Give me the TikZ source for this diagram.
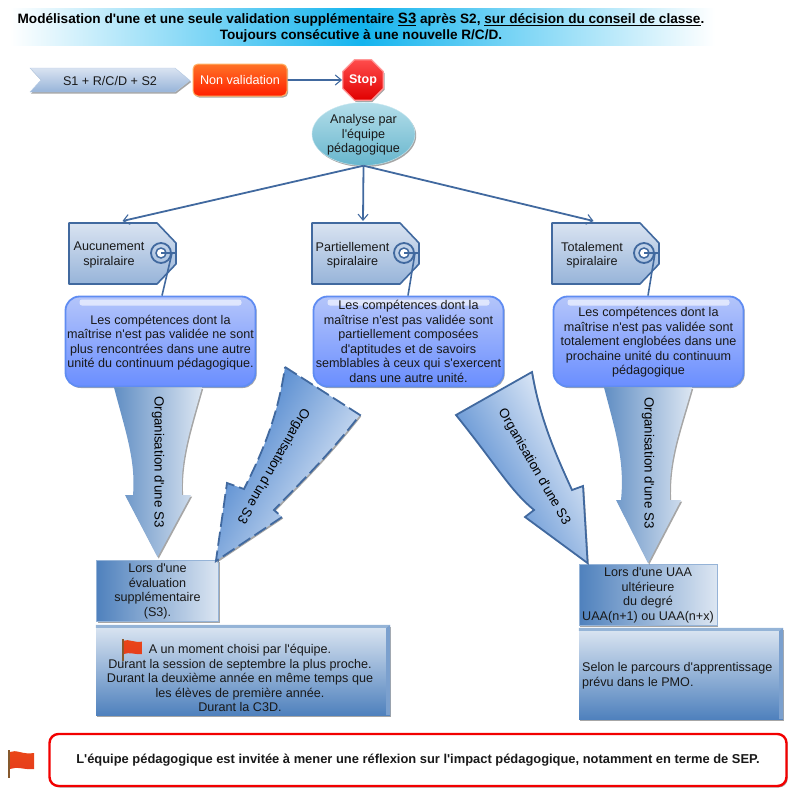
\documentclass[tikz,border=0pt]{standalone}
\usepackage{fontspec}
\setmainfont{Liberation Sans}
\newfontfamily\plainsans{Liberation Sans}
\usetikzlibrary{arrows.meta,shadows,calc,shapes.geometric}
\definecolor{linkblue}{HTML}{41699F}
\definecolor{steelA}{HTML}{4F81BD}
\definecolor{steelB}{HTML}{DCE6F2}
\definecolor{steelDeep}{HTML}{3A78C8}
\definecolor{steelPale}{HTML}{F0F5FC}
\definecolor{tagA}{HTML}{D9E3F1}
\definecolor{tagB}{HTML}{97B4D9}
\definecolor{gelA}{HTML}{B4C5FA}
\definecolor{gelB}{HTML}{6A8EFF}
\definecolor{gelEdge}{HTML}{5F8CF2}
\definecolor{banner}{HTML}{14B4EE}
\definecolor{flagred}{HTML}{E63D1C}
\definecolor{pondA}{HTML}{B4DEEA}
\definecolor{pondB}{HTML}{68B6CD}
\newcommand{\up}{\rule{0pt}{11.5pt}}
\tikzset{
  x=1pt, y=-1pt,
  body/.style={font=\fontsize{12.6}{14.5}\selectfont, align=center, text=black!90, inner sep=0pt},
  link/.style={draw=linkblue, line width=1.8pt, -{Straight Barb[length=6pt,width=10pt,line width=1.1pt]}},
  softshadow/.style={drop shadow={shadow xshift=1.2pt,shadow yshift=-1.5pt,opacity=.35,fill=black}},
  gel/.style={body, rounded corners=14pt, draw=gelEdge, line width=1.8pt, top color=gelA, bottom color=gelB,
     minimum width=190pt, minimum height=90pt, softshadow,
     path picture={
       \fill[white, opacity=.6, rounded corners=2.5pt]
         ($(path picture bounding box.north west)+(14,3)$) rectangle ($(path picture bounding box.north east)+(-14,9)$);
     }},
  flatbox/.style={body, draw=steelA!60, line width=.8pt, left color=steelA, right color=steelB,
     minimum width=122pt, minimum height=61pt, softshadow},
  bevelbox/.style={top color=steelB, bottom color=steelA, minimum height=90pt, softshadow, inner sep=0pt},
  tagshape/.style={draw=linkblue, line width=1.6pt, top color=tagA, bottom color=tagB, line join=round},
  blockarrow/.style={left color=steelA!90, right color=steelB, draw=none, softshadow},
  arrowlabel/.style={font=\fontsize{13.3}{14}\selectfont, text=black, inner sep=0pt},
  string/.style={draw=linkblue, line width=1.6pt},
  redflag/.pic={
    \fill[brown!70!black] (-1,-1) rectangle (1,27);
    \shade[top color=flagred!85!orange, bottom color=flagred] (1,1) .. controls (7,-2) and (14,4) .. (25,2)
       -- (25,18) .. controls (15,19) and (8,15) .. (1,18) -- cycle;
  }
}
\begin{document}
\begin{tikzpicture}
\plainsans
\useasboundingbox (0,0) rectangle (800,798);

% Title band
\shade[left color=white, right color=banner] (10,8) rectangle (362,45);
\shade[right color=white, left color=banner] (362,8) rectangle (715,45);
\node[font=\bfseries\fontsize{13.6}{16}\selectfont, align=center, inner sep=0pt] (title) at (361,28)
  {Modélisation d'une et une seule validation supplémentaire {\fontsize{15}{16}\selectfont\underline{S3}} après S2, \underline{sur décision du conseil de classe}.\\
   Toujours consécutive à une nouvelle R/C/D.};

% Upper chain
\shade[top color=tagA, bottom color=tagB, draw=tagB!70, softshadow]
  (30,68) -- (175,68) -- (190,80.5) -- (175,92) -- (30,92) -- (41,80) -- cycle;
\node[body] (start) at (110,80.5) {S1 + R/C/D + S2};
\node[body, text=white, rounded corners=5pt, draw=orange!60, line width=1pt, top color=orange!70!red!85, bottom color=red!75!orange,
  minimum width=94pt, minimum height=32pt, softshadow] (nonval) at (240,80) {Non validation};
\node[regular polygon, regular polygon sides=8, minimum size=44pt, inner sep=0pt,
  draw=red!40, line width=1.2pt, top color=red!70!white, bottom color=red!88!black, text=white,
  font=\bfseries\fontsize{12.5}{14}\selectfont, softshadow] (stopsign) at (363,80) {Stop};
\draw[link] (nonval) -- (stopsign);

\node[body, ellipse, minimum width=98pt, minimum height=63pt, top color=pondA, bottom color=pondB,
  draw=pondA!70, softshadow] (analyse) at (363.5,134) {\up Analyse par\\l'équipe\\pédagogique};

% Tags, each with its ring; the fourth argument is the centre of the wording
\newcommand{\tagat}[4]{%
  \path[tagshape] (#1,223) -- (#1+88,223) -- (#1+107,243) -- (#1+107,264) -- (#1+88,284) -- (#1,284) -- cycle;
  \coordinate (#2) at (#1+53.5,223);
  \node[body] (#2text) at (#4,255) {#3};
  \draw[linkblue, line width=1.8pt] (#1+92,253) circle (10pt);
  \fill[white, draw=linkblue, line width=1.5pt] (#1+92,253) circle (5pt);
}
\tagat{69}{tagL}{Aucunement\\spiralaire}{109}
\tagat{312}{tagM}{Partiellement\\spiralaire}{352.5}
\tagat{552}{tagR}{Totalement\\spiralaire}{592}

\draw[link] (analyse.south) -- ($(tagL)+(0,-2)$);
\draw[link] (analyse.south) -- ($(tagM)+(-2.5,-2)$);
\draw[link] (analyse.south) -- ($(tagR)+(-12,-2)$);

% Gel boxes
\node[gel] (gelL) at (160.5,341.5) {\up Les compétences dont la\\maîtrise n'est pas validée ne sont\\plus rencontrées dans une autre\\unité du continuum pédagogique.};
\node[gel] (gelM) at (408.5,341.5) {Les compétences dont la\\maîtrise n'est pas validée sont\\partiellement composées\\d'aptitudes et de savoirs\\semblables à ceux qui s'exercent\\dans une autre unité.};
\node[gel] (gelR) at (648.5,341.5) {\up Les compétences dont la\\maîtrise n'est pas validée sont\\totalement englobées dans une\\prochaine unité du continuum\\pédagogique};

% Tag strings run into the gel boxes
\draw[string] (161,253) -- (176,253) (172,253) -- (gelL.north -| 162,0);
\draw[string] (404,253) -- (419,253) (415,253) -- (gelM.north -| 408,0);
\draw[string] (644,253) -- (659,253) (655,253) -- (gelR.north -| 648,0);

% Destination boxes
\node[flatbox] (evalL) at (157.5,591) {Lors d'une\\évaluation\\supplémentaire\\(S3).};
\node[flatbox, minimum width=138pt] (uaa) at (648,595) {Lors d'une UAA\\ultérieure\\du degré\\UAA(n+1) ou UAA(n+x)};

\node[bevelbox, minimum width=294pt] (detailL) at (243,670) {};
\node[bevelbox, minimum width=204pt, minimum height=91pt] (detailR) at (681,673.5) {};
\foreach \b in {detailL,detailR}{
  \fill[steelA!60] (\b.north west) -- (\b.north east) -- ($(\b.north east)+(-4,3)$) -- ($(\b.north west)+(0,3)$) -- cycle;
  \fill[steelA!75] (\b.north east) -- (\b.south east) -- ($(\b.south east)+(-4,0)$) -- ($(\b.north east)+(-4,3)$) -- cycle;
}
\node[body] (detailLtext) at (240,678) {A un moment choisi par l'équipe.\\Durant la session de septembre la plus proche.\\Durant la deuxième année en même temps que\\les élèves de première année.\\Durant la C3D.};
\node[body, align=left, anchor=west] (detailRtext) at (582,675.5) {Selon le parcours d'apprentissage\\prévu dans le PMO.};

% Block arrows
\path[blockarrow] ($(gelL.south)+(-46.5,0)$) .. controls (125,430) and (136,460) .. (133,495)
  -- (125,495) -- ($(evalL.north)+(0,-3)$) -- (191,495) -- (182,495)
  .. controls (180,460) and (190,430) .. ($(gelL.south)+(41.5,0)$) -- cycle;
\node[arrowlabel, rotate=-90] (labL) at (158,462) {Organisation d'une S3};

\path[blockarrow] ($(gelR.south)+(-44.5,0)$) .. controls (615,430) and (625,460) .. (621,500)
  -- (616,500) -- ($(uaa.north)+(0,-1)$) -- (681,500) -- (670,500)
  .. controls (668,460) and (680,430) .. ($(gelR.south)+(43.5,0)$) -- cycle;
\node[arrowlabel, rotate=-90] (labR) at (648,463) {Organisation d'une S3};

\path[blockarrow, draw=linkblue, line width=1.8pt, dash pattern=on 14pt off 5pt, left color=steelDeep, right color=steelPale, shading angle=60]
  (285,367) -- (360,415) .. controls (327,457) and (303,480) .. (274,510) -- (282,517)
  -- ($(evalL.north east)+(-3,1)$) -- (227,483) -- (244,489) .. controls (257,463) and (277,423) .. cycle;
\node[arrowlabel, rotate=-120] (labML) at (273,466) {Organisation d'une S3};

\path[blockarrow, draw=linkblue, line width=1.8pt, left color=steelDeep, right color=steelPale, shading angle=120]
  (532,372) -- (456,415) .. controls (500,470) and (510,490) .. (534,510) -- (525,517)
  -- ($(uaa.north west)+(9,-1)$) -- (583,486) -- (572,490) .. controls (557,457) and (540,420) .. cycle;
\node[arrowlabel, rotate=-60] (labMR) at (534,467) {Organisation d'une S3};

% Notice at the foot, with its flags
\pic[scale=.78] at (123,640) {redflag};
\pic at (9,751) {redflag};
\node[body, font=\bfseries\fontsize{12.9}{14.5}\selectfont, rounded corners=9pt, draw=red!95!black, line width=2.4pt, fill=white,
  minimum width=737pt, minimum height=52pt, softshadow] (notice) at (418,760)
  {L'équipe pédagogique est invitée à mener une réflexion sur l'impact pédagogique, notamment en terme de SEP.};
\end{tikzpicture}
\end{document}
